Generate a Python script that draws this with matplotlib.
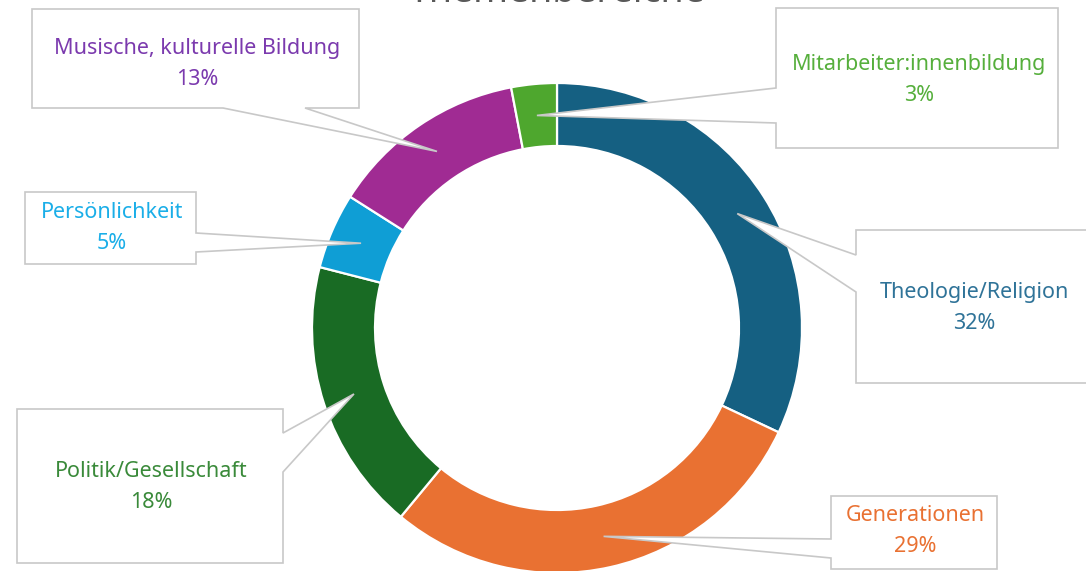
import matplotlib
matplotlib.use("Agg")
import numpy as np
import matplotlib.pyplot as plt
from matplotlib.patches import Polygon

plt.rcParams["font.family"] = ["Noto Sans", "DejaVu Sans"]

# data
categories = [
    "Theologie/Religion",
    "Generationen",
    "Politik/Gesellschaft",
    "Persönlichkeit",
    "Musische, kulturelle Bildung",
    "Mitarbeiter:innenbildung",
]
shares = [32, 29, 18, 5, 13, 3]
title = "Themenbereiche"

wedge_colors = ["#156082", "#E97132", "#196B24", "#0F9ED5", "#A02B93", "#4EA72E"]
text_colors = ["#2F7398", "#E97132", "#3A8A3A", "#1AAEE8", "#7B3AAE", "#56AF3C"]

W, H = 1086, 571
CX, CY = 557, 328
R_OUT, RING = 245, 63

# callout boxes in pixel coords: (x0, y0, x1, y1, side, a, b, text_x, text_y)
boxes = [
    (856, 230, 1095, 383, "left", 255, 292, 974, 308),
    (831, 496, 997, 569, "left", 539, 558, 915, 531),
    (17, 409, 283, 563, "right", 433, 472, 151, 487),
    (25, 192, 196, 264, "right", 233, 252, 112, 228),
    (32, 9, 359, 108, "bottom", 223, 305, 197, 64),
    (776, 8, 1058, 148, "left", 88, 123, 919, 80),
]


def py(y):
    return H - y


def callout(x0, y0, x1, y1, side, a, b, tip):
    pts = [(x0, y0), (x1, y0)]
    if side == "right":
        pts += [(x1, a), tip, (x1, b)]
    pts += [(x1, y1)]
    if side == "bottom":
        pts += [(b, y1), tip, (a, y1)]
    pts += [(x0, y1)]
    if side == "left":
        pts += [(x0, b), tip, (x0, a)]
    return [(x, py(y)) for x, y in pts]


fig = plt.figure(figsize=(W / 100, H / 100), dpi=100)
ax = fig.add_axes([0, 0, 1, 1])

wedges, _ = ax.pie(
    shares,
    colors=wedge_colors,
    startangle=90,
    counterclock=False,
    radius=R_OUT,
    center=(CX, py(CY)),
    wedgeprops=dict(width=RING, edgecolor="white", linewidth=1.6),
)
ax.set_xlim(0, W)
ax.set_ylim(0, H)
ax.set_aspect("equal")
ax.axis("off")

r_mid = R_OUT - RING / 2
for w, name, val, col, box in zip(wedges, categories, shares, text_colors, boxes):
    ang = np.deg2rad((w.theta1 + w.theta2) / 2)
    tip_x = CX + r_mid * np.cos(ang)
    tip_y = CY - r_mid * np.sin(ang)
    x0, y0, x1, y1, side, a, b, tx, ty = box
    poly = Polygon(callout(x0, y0, x1, y1, side, a, b, (tip_x, tip_y)),
                   closed=True, facecolor="white", edgecolor="#C8C8C8",
                   linewidth=1.2, zorder=3)
    ax.add_patch(poly)
    ax.text(tx, py(ty), f"{name}\n{val}%", color=col, fontsize=15.5,
            ha="center", va="center", multialignment="center",
            linespacing=1.6, zorder=4)

# title sits mostly above the visible area, as in the source image
ax.text(CX, py(11), title, color="#595959", fontsize=27,
        ha="center", va="bottom")

fig.savefig("out.png", dpi=100)
